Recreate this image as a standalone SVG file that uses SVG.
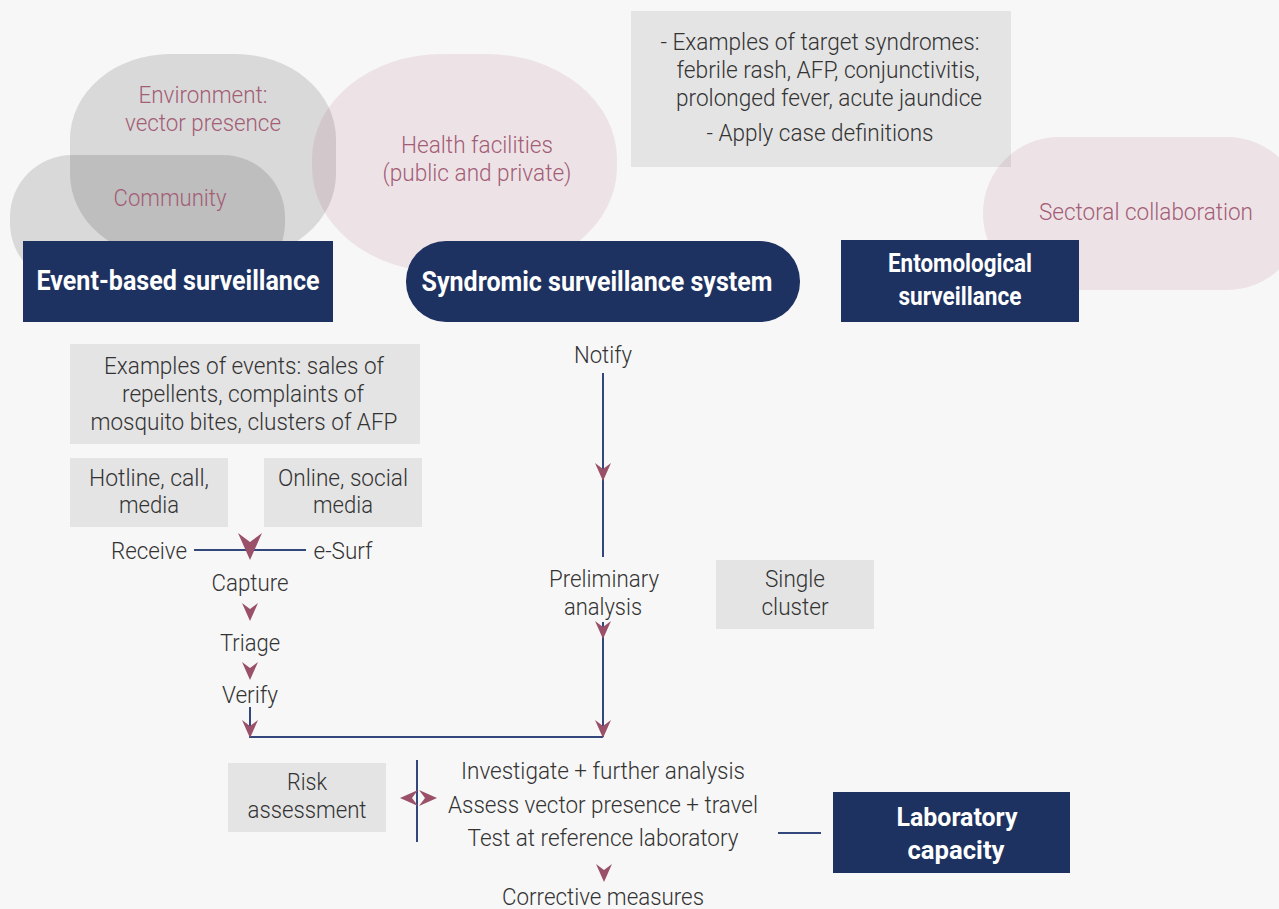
<svg xmlns="http://www.w3.org/2000/svg" xmlns:xlink="http://www.w3.org/1999/xlink" width="1279" height="909" viewBox="0 0 1279 909">
  <style>
    .t { font-family: Roboto, "Liberation Sans", sans-serif; font-weight: 300; font-size: 24px; fill: #333333; text-anchor: middle; }
    .m { font-family: Roboto, "Liberation Sans", sans-serif; font-weight: 300; font-size: 24px; fill: #a35d75; text-anchor: middle; }
    .h { font-family: Roboto, "Liberation Sans", sans-serif; font-weight: 700; fill: #ffffff; text-anchor: middle; }
    .grey { fill: #000000; fill-opacity: 0.12; }
    .pink { fill: #a35070; fill-opacity: 0.12; }
    .box { fill: #e4e4e4; }
    .dark { fill: #1e3261; }
    .ln { stroke: #34477a; stroke-width: 2; fill: none; }
    .ah { fill: #9a5069; }
  </style>
  <defs>
    <!-- concave arrowhead pointing down, tip at origin -->
    <path id="ah" d="M0,0 L-8,-18 L0,-12 L8,-18 Z"/>
  </defs>

  <rect width="1279" height="909" fill="#f7f7f7"/>

  <!-- context blobs -->
  <g id="environment">
    <rect class="grey" x="70" y="54" width="266" height="205" rx="100" ry="85"/>
    <text class="m" x="203" y="103" textLength="129" lengthAdjust="spacingAndGlyphs">Environment:</text>
    <text class="m" x="203" y="131" textLength="156" lengthAdjust="spacingAndGlyphs">vector presence</text>
  </g>
  <g id="community">
    <rect class="grey" x="10" y="155" width="275" height="130" rx="62" ry="62"/>
    <text class="m" x="170" y="205.5" textLength="113" lengthAdjust="spacingAndGlyphs">Community</text>
  </g>
  <g id="health-facilities">
    <rect class="pink" x="312" y="54" width="305" height="218" rx="130" ry="105"/>
    <text class="m" x="477" y="153" textLength="152" lengthAdjust="spacingAndGlyphs">Health facilities</text>
    <text class="m" x="477" y="181" textLength="189" lengthAdjust="spacingAndGlyphs">(public and private)</text>
  </g>

  <g id="target-syndromes">
    <rect class="box" x="631" y="11" width="380" height="156"/>
    <text class="t" x="820" y="50" textLength="319" lengthAdjust="spacingAndGlyphs">- Examples of target syndromes:</text>
    <text class="t" x="828" y="77.5" textLength="303" lengthAdjust="spacingAndGlyphs">febrile rash, AFP, conjunctivitis,</text>
    <text class="t" x="829" y="106" textLength="306" lengthAdjust="spacingAndGlyphs">prolonged fever, acute jaundice</text>
    <text class="t" x="820" y="140.5" textLength="227" lengthAdjust="spacingAndGlyphs">- Apply case definitions</text>
  </g>
  <g id="sectoral-collaboration">
    <rect class="pink" x="983" y="137" width="320" height="153" rx="76" ry="76"/>
    <text class="m" x="1146" y="220" textLength="214" lengthAdjust="spacingAndGlyphs">Sectoral collaboration</text>
  </g>

  <!-- surveillance systems -->
  <g id="event-based">
    <rect class="dark" x="23" y="241" width="310" height="81"/>
    <text class="h" x="178" y="290" font-size="27" textLength="283" lengthAdjust="spacingAndGlyphs">Event-based surveillance</text>
  </g>
  <g id="syndromic">
    <rect class="dark" x="406" y="241" width="394" height="81" rx="40" ry="40"/>
    <text class="h" x="597" y="291" font-size="27" textLength="351" lengthAdjust="spacingAndGlyphs">Syndromic surveillance system</text>
  </g>
  <g id="entomological">
    <rect class="dark" x="841" y="240" width="238" height="82"/>
    <text class="h" x="960" y="272" font-size="25" textLength="144" lengthAdjust="spacingAndGlyphs">Entomological</text>
    <text class="h" x="960" y="305" font-size="25" textLength="123" lengthAdjust="spacingAndGlyphs">surveillance</text>
  </g>

  <!-- event-based branch -->
  <g id="events-examples">
    <rect class="box" x="70" y="344" width="350" height="100"/>
    <text class="t" x="244" y="374" textLength="280" lengthAdjust="spacingAndGlyphs">Examples of events: sales of</text>
    <text class="t" x="243" y="402" textLength="242" lengthAdjust="spacingAndGlyphs">repellents, complaints of</text>
    <text class="t" x="244" y="430" textLength="307" lengthAdjust="spacingAndGlyphs">mosquito bites, clusters of AFP</text>
  </g>
  <g id="hotline">
    <rect class="box" x="70" y="458" width="158" height="69"/>
    <text class="t" x="149" y="486" textLength="120" lengthAdjust="spacingAndGlyphs">Hotline, call,</text>
    <text class="t" x="149" y="513" textLength="60" lengthAdjust="spacingAndGlyphs">media</text>
  </g>
  <g id="online">
    <rect class="box" x="264" y="458" width="158" height="69"/>
    <text class="t" x="343" y="486" textLength="130" lengthAdjust="spacingAndGlyphs">Online, social</text>
    <text class="t" x="343" y="513" textLength="60" lengthAdjust="spacingAndGlyphs">media</text>
  </g>
  <g id="receive"><text class="t" x="149" y="559" textLength="76" lengthAdjust="spacingAndGlyphs">Receive</text></g>
  <g id="e-surf"><text class="t" x="343" y="559" textLength="59" lengthAdjust="spacingAndGlyphs">e-Surf</text></g>
  <g id="capture"><text class="t" x="250" y="591" textLength="77" lengthAdjust="spacingAndGlyphs">Capture</text></g>
  <g id="triage"><text class="t" x="250" y="651" textLength="60" lengthAdjust="spacingAndGlyphs">Triage</text></g>
  <g id="verify"><text class="t" x="250" y="702.5" textLength="56" lengthAdjust="spacingAndGlyphs">Verify</text></g>

  <!-- syndromic branch -->
  <g id="notify"><text class="t" x="603" y="363" textLength="58" lengthAdjust="spacingAndGlyphs">Notify</text></g>
  <g id="preliminary-analysis">
    <text class="t" x="604" y="587" textLength="110" lengthAdjust="spacingAndGlyphs">Preliminary</text>
    <text class="t" x="603" y="615" textLength="78" lengthAdjust="spacingAndGlyphs">analysis</text>
  </g>
  <g id="single-cluster">
    <rect class="box" x="716" y="560" width="158" height="69"/>
    <text class="t" x="795" y="587" textLength="60" lengthAdjust="spacingAndGlyphs">Single</text>
    <text class="t" x="795" y="615" textLength="67" lengthAdjust="spacingAndGlyphs">cluster</text>
  </g>

  <!-- response -->
  <g id="risk-assessment">
    <rect class="box" x="228" y="763" width="158" height="69"/>
    <text class="t" x="307" y="790" textLength="40" lengthAdjust="spacingAndGlyphs">Risk</text>
    <text class="t" x="307" y="818" textLength="119" lengthAdjust="spacingAndGlyphs">assessment</text>
  </g>
  <g id="investigation">
    <text class="t" x="603" y="779" textLength="284" lengthAdjust="spacingAndGlyphs">Investigate + further analysis</text>
    <text class="t" x="603" y="812.5" textLength="310" lengthAdjust="spacingAndGlyphs">Assess vector presence + travel</text>
    <text class="t" x="603" y="846" textLength="271" lengthAdjust="spacingAndGlyphs">Test at reference laboratory</text>
  </g>
  <g id="laboratory-capacity">
    <rect class="dark" x="833" y="792" width="237" height="81"/>
    <text class="h" x="957" y="826" font-size="25" textLength="121" lengthAdjust="spacingAndGlyphs">Laboratory</text>
    <text class="h" x="956" y="859" font-size="25" textLength="97" lengthAdjust="spacingAndGlyphs">capacity</text>
  </g>
  <g id="corrective-measures"><text class="t" x="603" y="905" textLength="202" lengthAdjust="spacingAndGlyphs">Corrective measures</text></g>

  <!-- connectors -->
  <g id="connectors">
    <path class="ln" d="M194,550 H306"/>
    <path class="ln" d="M250,707 V737 H603"/>
    <path class="ln" d="M603,373 V557"/>
    <path class="ln" d="M603,622 V737"/>
    <path class="ln" d="M417,760 V842"/>
    <path class="ln" d="M778,833 H821"/>

    <use xlink:href="#ah" class="ah" transform="translate(250,560) scale(1.5,1.5)"/>
    <use xlink:href="#ah" class="ah" transform="translate(250,621)"/>
    <use xlink:href="#ah" class="ah" transform="translate(250,680)"/>
    <use xlink:href="#ah" class="ah" transform="translate(250,738)"/>
    <use xlink:href="#ah" class="ah" transform="translate(603,481)"/>
    <use xlink:href="#ah" class="ah" transform="translate(603,639)"/>
    <use xlink:href="#ah" class="ah" transform="translate(603,738)"/>
    <use xlink:href="#ah" class="ah" transform="translate(604,882)"/>
    <use xlink:href="#ah" class="ah" transform="translate(400,798) rotate(90)"/>
    <use xlink:href="#ah" class="ah" transform="translate(437,798) rotate(-90)"/>
  </g>
</svg>
